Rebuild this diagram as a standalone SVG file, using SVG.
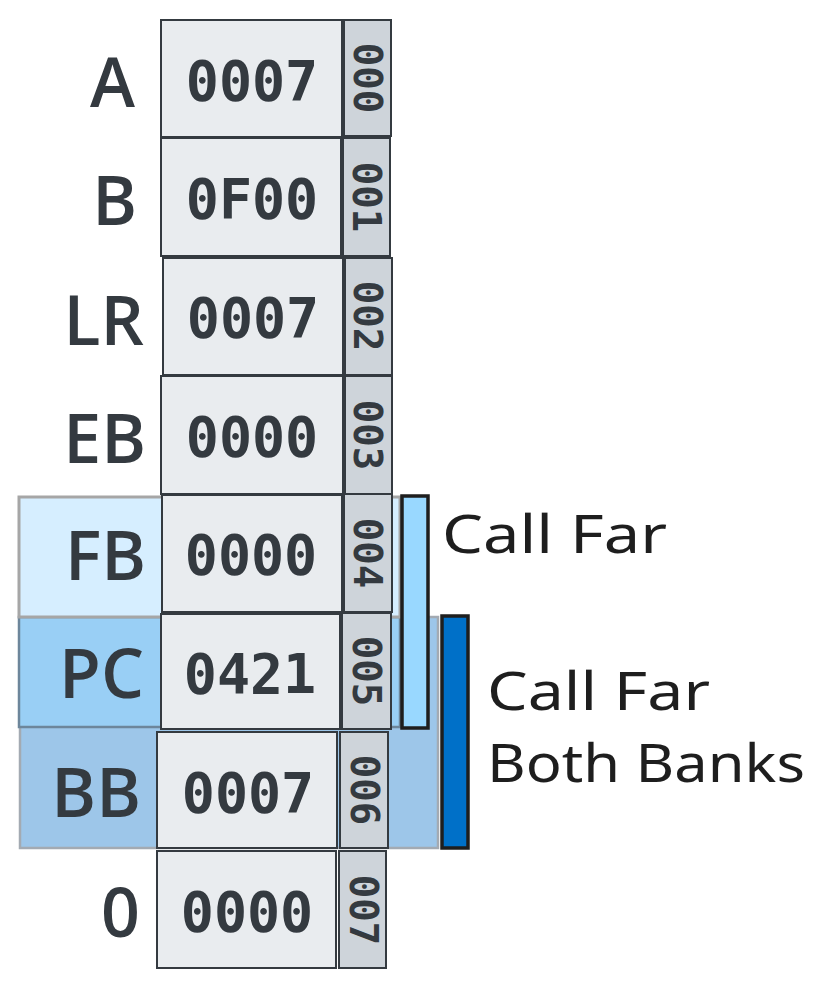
<svg xmlns="http://www.w3.org/2000/svg" width="825" height="989" viewBox="0 0 825 989">
<style>
.val{fill:#e9ecef;stroke:#343a40;stroke-width:2}
.idx{fill:#ced4da;stroke:#343a40;stroke-width:2}
.lbl{font-family:"Open Sans","Noto Sans",sans-serif;font-weight:600;font-size:68px;fill:#343a40;text-anchor:end}
.num{font-family:"DejaVu Sans Mono",monospace;font-weight:bold;font-size:55px;fill:#343a40;text-anchor:middle}
.adr{font-family:"DejaVu Sans Mono",monospace;font-weight:bold;font-size:39px;fill:#343a40;text-anchor:middle}
.hand{font-family:"Noto Sans",sans-serif;font-size:52px;fill:#1e1e1e}
.bar{stroke:#1e1e1e;stroke-width:3.5}
</style>
<rect width="825" height="989" fill="#ffffff"/>
<g id="highlights">
<rect x="20" y="617" width="418" height="231" fill="#9dc6e9" stroke="#a3aab2" stroke-width="2.5"/>
<rect x="19" y="617" width="381" height="110" fill="#99cff5" stroke="#6d869b" stroke-width="2.5"/>
<rect x="19" y="497" width="381" height="120" fill="#d6eeff" stroke="#a6a6a6" stroke-width="3"/>
</g>
<g id="row-A">
<rect class="val" x="161" y="20" width="181" height="117"/>
<rect class="idx" x="344" y="20" width="47" height="116"/>
<text class="lbl" x="135" y="107">A</text>
<text class="num" x="252" y="100">0007</text>
<text class="adr" transform="translate(368,78) rotate(90)" x="0" y="14">000</text>
</g>
<g id="row-B">
<rect class="val" x="161" y="138" width="180" height="118"/>
<rect class="idx" x="343" y="138" width="47" height="118"/>
<text class="lbl" x="137" y="225">B</text>
<text class="num" x="252" y="218">0F00</text>
<text class="adr" transform="translate(367,197) rotate(90)" x="0" y="14">001</text>
</g>
<g id="row-LR">
<rect class="val" x="163" y="258" width="180" height="117"/>
<rect class="idx" x="345" y="258" width="47" height="117"/>
<text class="lbl" x="144" y="345">LR</text>
<text class="num" x="253" y="337">0007</text>
<text class="adr" transform="translate(368,316) rotate(90)" x="0" y="14">002</text>
</g>
<g id="row-EB">
<rect class="val" x="161" y="376" width="182" height="118"/>
<rect class="idx" x="345" y="376" width="47" height="118"/>
<text class="lbl" x="146" y="463">EB</text>
<text class="num" x="252" y="456">0000</text>
<text class="adr" transform="translate(368,435) rotate(90)" x="0" y="14">003</text>
</g>
<g id="row-FB">
<rect class="val" x="162" y="495" width="180" height="117"/>
<rect class="idx" x="344" y="494" width="48" height="118"/>
<text class="lbl" x="146" y="580">FB</text>
<text class="num" x="251" y="574">0000</text>
<text class="adr" transform="translate(368,553) rotate(90)" x="0" y="14">004</text>
</g>
<g id="row-PC">
<rect class="val" x="161" y="614" width="179" height="115"/>
<rect class="idx" x="342" y="613" width="49" height="116"/>
<text class="lbl" x="144" y="698">PC</text>
<text class="num" x="250" y="693">0421</text>
<text class="adr" transform="translate(367,671) rotate(90)" x="0" y="14">005</text>
</g>
<g id="row-BB">
<rect class="val" x="157" y="732" width="180" height="116"/>
<rect class="idx" x="340" y="732" width="48" height="116"/>
<text class="lbl" x="141" y="817">BB</text>
<text class="num" x="248" y="812">0007</text>
<text class="adr" transform="translate(365,790) rotate(90)" x="0" y="14">006</text>
</g>
<g id="row-0">
<rect class="val" x="157" y="851" width="179" height="117"/>
<rect class="idx" x="339" y="851" width="47" height="117"/>
<text class="lbl" x="140" y="937">0</text>
<text class="num" x="247" y="931">0000</text>
<text class="adr" transform="translate(364,910) rotate(90)" x="0" y="14">007</text>
</g>
<g id="call-far">
<rect class="bar" x="402" y="496" width="26" height="232" fill="#99d8ff"/>
<text class="hand" x="442" y="553" textLength="225" lengthAdjust="spacingAndGlyphs">Call Far</text>
</g>
<g id="call-far-both-banks">
<rect class="bar" x="442" y="616" width="26" height="232" fill="#0070c8"/>
<text class="hand" x="487" y="710" textLength="223" lengthAdjust="spacingAndGlyphs">Call Far</text>
<text class="hand" x="487" y="782" textLength="318" lengthAdjust="spacingAndGlyphs">Both Banks</text>
</g>
<g id="connectors"></g>
</svg>
